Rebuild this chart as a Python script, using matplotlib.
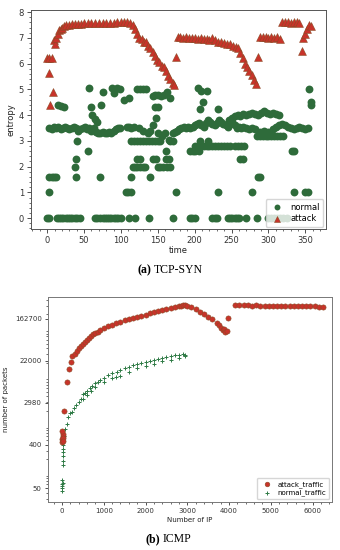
import numpy as np
import matplotlib.pyplot as plt

# ---- (a) TCP-SYN : entropy over time ----
# attack entropy (time, value)
attack_t = [0, 3, 6, 3, 4, 8, 9, 10, 12, 14, 16, 18, 20, 23, 26, 30, 34, 38, 42, 46,
            50, 55, 60, 65, 70, 75, 80, 85, 90, 95, 100, 104, 108, 112, 116, 119, 122,
            125, 128, 131, 134, 137, 140, 143, 146, 149, 152, 155, 158, 161, 164, 167,
            170, 172, 174, 177, 180, 184, 188, 192, 196, 200, 204, 208, 212, 216, 220,
            224, 228, 232, 236, 240, 244, 248, 252, 256, 259, 262, 265, 268, 271, 274,
            277, 280, 283, 286, 289, 292, 296, 300, 304, 308, 312, 316, 319, 322, 326,
            330, 334, 338, 342, 345, 347, 349, 352, 355, 357]
attack_v = [6.2, 6.2, 6.2, 5.65, 4.4, 4.9, 6.9, 6.75, 7.0, 7.15, 7.3, 7.35, 7.4, 7.45,
            7.5, 7.5, 7.52, 7.55, 7.55, 7.55, 7.56, 7.57, 7.57, 7.57, 7.58, 7.57, 7.58,
            7.58, 7.56, 7.6, 7.6, 7.62, 7.6, 7.58, 7.5, 7.35, 7.15, 7.0, 6.95, 6.85,
            6.85, 6.7, 6.6, 6.45, 6.3, 6.15, 6.05, 5.9, 5.85, 5.7, 5.5, 5.4, 5.25, 5.15,
            6.25, 7.05, 7.05, 7.0, 7.05, 7.0, 7.0, 7.0, 6.95, 7.0, 6.95, 6.95, 6.9, 7.0,
            6.9, 6.85, 6.85, 6.8, 6.75, 6.75, 6.7, 6.65, 6.6, 6.4, 6.2, 6.0, 5.85, 5.7,
            5.55, 5.35, 5.2, 6.25, 7.05, 7.05, 7.05, 7.0, 7.05, 7.0, 7.05, 6.95, 7.6,
            7.6, 7.6, 7.58, 7.6, 7.6, 7.58, 6.5, 7.0, 7.15, 7.35, 7.5, 7.45]

# normal entropy, points sitting on flat levels
lvl_0 = [0, 3, 13, 16, 19, 22, 25, 28, 31, 34, 37, 41, 44, 65, 68, 72, 75, 78, 81, 84,
         87, 90, 93, 96, 100, 111, 119, 138, 170, 193, 196, 200, 224, 227, 230, 245,
         248, 251, 254, 257, 260, 270, 284, 300, 304, 308, 312, 316, 320, 325]
lvl_1 = [3, 107, 110, 114, 175, 232, 277, 335, 350, 354]
lvl_16 = [3, 6, 9, 12, 39, 71, 114, 139, 286, 289]
lvl_20 = [38, 116, 119, 122, 126, 130, 133, 150, 153, 157, 162, 166]
lvl_23 = [39, 122, 126, 143, 147, 161, 165, 261, 265]
lvl_26 = [55, 161, 193, 197, 201, 206, 332, 335]
lvl_28 = [200, 204, 208, 212, 216, 220, 224, 228, 232, 236, 240, 244, 248, 255, 259,
          263, 267]
lvl_30 = [41, 114, 118, 122, 126, 130, 134, 138, 142, 146, 150, 153, 166, 170, 207, 218]
lvl_32 = [284, 288, 292, 296, 300, 304, 308, 312, 316, 320]

# normal entropy, the noisy band and scattered points
band_t = [3, 6, 9, 12, 15, 18, 21, 24, 27, 30, 33, 36, 39, 42, 45, 48, 51, 54, 57, 60,
          63, 66, 69, 72, 75, 78, 81, 84, 87, 90, 93, 96, 99, 108, 111, 114, 117, 125,
          130, 136, 150, 155, 160, 165, 170, 173, 176, 179, 182, 185, 188, 191, 194,
          197, 200, 203, 206, 209, 212, 215, 218, 221, 224, 227, 230, 233, 236, 239,
          242, 245, 248, 251, 254, 257, 260, 263, 266, 270, 274, 278, 282, 288, 294,
          300, 306, 310, 314, 318, 322, 326, 330, 334, 338, 342, 346, 350, 353,
          246, 250, 254, 258, 262, 266, 270, 274, 278, 282, 286, 290, 294, 298, 302,
          306, 310, 314,
          15, 19, 23, 56, 59, 61, 65, 68, 73, 75, 88, 91, 95, 99, 104, 111, 122, 126,
          130, 134, 143, 146, 150, 154, 158, 162, 166, 146, 150, 148, 143, 139, 205,
          208, 216, 211, 207, 232, 355, 357, 358]
band_v = [3.5, 3.45, 3.55, 3.5, 3.55, 3.45, 3.5, 3.55, 3.5, 3.45, 3.5, 3.55, 3.5, 3.4,
          3.45, 3.5, 3.55, 3.45, 3.5, 3.4, 3.5, 3.35, 3.3, 3.3, 3.35, 3.3, 3.3, 3.35,
          3.3, 3.4, 3.45, 3.5, 3.5, 3.55, 3.55, 3.5, 3.55, 3.5, 3.4, 3.3, 3.3, 3.2,
          3.3, 3.05, 3.3, 3.35, 3.4, 3.45, 3.5, 3.55, 3.5, 3.55, 3.5, 3.55, 3.6, 3.65,
          3.7, 3.6, 3.55, 3.7, 3.8, 3.75, 3.65, 3.6, 3.7, 3.8, 3.75, 3.65, 3.6, 3.55,
          3.65, 3.75, 3.6, 3.5, 3.55, 3.5, 3.55, 3.5, 3.45, 3.5, 3.45, 3.35, 3.4, 3.35,
          3.45, 3.55, 3.6, 3.65, 3.6, 3.55, 3.5, 3.45, 3.5, 3.55, 3.5, 3.45, 3.5,
          3.8, 3.9, 3.95, 4.0, 3.95, 4.05, 4.0, 4.05, 4.1, 4.05, 4.0, 4.1, 4.15, 4.1,
          4.05, 4.1, 4.05, 4.0,
          4.4, 4.35, 4.3, 5.05, 4.3, 4.0, 3.85, 3.75, 4.4, 4.9, 5.05, 4.85, 5.05, 5.0,
          4.6, 4.65, 5.0, 5.0, 5.0, 5.0, 4.75, 4.8, 4.8, 4.75, 4.8, 4.9, 4.65, 4.3, 4.3,
          3.9, 3.6, 3.4, 5.05, 4.95, 4.95, 4.5, 4.25, 4.25, 5.0, 4.4, 4.5]

# ---- (b) ICMP : packets per number of IP ----
atk_ip = [5, 10, 15, 20, 8, 12, 18, 45, 120, 168, 216, 250, 300, 350, 400, 450, 500,
          550, 600, 650, 700, 750, 800, 850, 900, 1000, 1100, 1200, 1300, 1400, 1500,
          1600, 1700, 1800, 1900, 2000, 2100, 2200, 2300, 2400, 2500, 2600, 2700, 2800,
          2850, 2900, 2950, 3000, 3100, 3200, 3300, 3400, 3500, 3600, 3700, 3750, 3800,
          3850, 3880, 3910, 3940, 3980, 4150, 4250, 4350, 4450, 4550, 4650, 4750, 4850,
          4950, 5050, 5150, 5250, 5350, 5450, 5550, 5650, 5750, 5850, 5950, 6050, 6150,
          6250]
atk_pk = [450, 520, 600, 680, 760, 550, 480, 1960, 7800, 14500, 21000, 27000, 30000,
          35000, 40000, 45000, 50000, 55000, 60000, 66000, 72000, 77000, 82000, 87000,
          94000, 104000, 113000, 123000, 133000, 142000, 151000, 160000, 170000, 178000,
          188000, 197000, 210000, 222000, 234000, 246000, 258000, 270000, 284000,
          298000, 305000, 312000, 308000, 305000, 280000, 255000, 230000, 205000,
          180000, 160000, 135000, 122000, 105000, 95000, 100000, 85000, 90000, 170000,
          312000, 310000, 308000, 309000, 306000, 307000, 305000, 306000, 304000,
          305000, 303000, 304000, 302000, 303000, 301000, 300000, 300000, 298000,
          297000, 295000, 292000, 290000]

nrm_ip = [5, 5, 8, 10, 12, 6, 15, 18, 20, 22, 25, 20, 30, 40, 70, 110, 150, 200, 230,
          280, 330, 400, 450, 510, 560, 600, 670, 720, 800, 850, 910, 1000, 1100, 1200,
          1320, 1400, 1500, 1600, 1700, 1800, 1900, 2000, 2100, 2200, 2300, 2400, 2500,
          2600, 2700, 2800, 2900, 2950,
          500, 600, 700, 800, 1000, 1200, 1300, 1400, 1600, 1800, 2000, 2200, 2400,
          2600, 2800, 2950]
nrm_pk = [45, 50, 55, 60, 65, 75, 150, 180, 230, 280, 330, 400, 480, 600, 830, 1100,
          1500, 1800, 1950, 2300, 2700, 3000, 3500, 4400, 4800, 5300, 6100, 6500, 7500,
          8000, 8900, 9800, 11000, 12000, 13000, 14000, 15500, 16500, 18000, 19000,
          20000, 21000, 22000, 23000, 24000, 25000, 26500, 27500, 28500, 29500, 30000,
          29000,
          3600, 4300, 5200, 6200, 8000, 9800, 10000, 10500, 13000, 15500, 17500, 19000,
          21500, 23000, 25000, 27000]
pk_ticks = [50, 400, 2980, 22000, 162700]

green = '#2e6b3a'
red = '#c8332a'
brown = '#8a4a25'
spine = '#555555'

fig = plt.figure(figsize=(3.4, 5.5), dpi=100)

# top panel
ax1 = fig.add_axes([31 / 340, 1 - 229 / 550, 295 / 340, 219 / 550])
normal_t = lvl_0 + lvl_1 + lvl_16 + lvl_20 + lvl_23 + lvl_26 + lvl_28 + lvl_30 + lvl_32 + band_t
normal_v = ([0] * len(lvl_0) + [1] * len(lvl_1) + [1.6] * len(lvl_16) + [2.0] * len(lvl_20)
            + [2.3] * len(lvl_23) + [2.6] * len(lvl_26) + [2.8] * len(lvl_28)
            + [3.0] * len(lvl_30) + [3.2] * len(lvl_32) + band_v)
ax1.scatter(normal_t, normal_v, s=32, marker='o', color=green, linewidths=0,
            label='normal', zorder=2)
ax1.scatter(attack_t, attack_v, s=32, marker='^', facecolor=red, edgecolor=brown,
            linewidths=0.4, label='attack', zorder=3)
ax1.set_xlim(-22, 378)
ax1.set_ylim(-0.42, 8.08)
ax1.set_xticks([0, 50, 100, 150, 200, 250, 300, 350])
ax1.set_yticks(range(0, 9))
ax1.minorticks_on()
ax1.tick_params(labelsize=6, length=3, width=0.6, colors='#333333', pad=2)
ax1.tick_params(which='minor', length=1.5, width=0.5, colors='#333333')
ax1.set_xlabel('time', fontsize=6, labelpad=1, color='#222222')
ax1.set_ylabel('entropy', fontsize=6, labelpad=2, color='#222222')
for s in ax1.spines.values():
    s.set_color(spine)
    s.set_linewidth(0.7)
ax1.legend(loc='lower right', fontsize=6, markerscale=0.75, handletextpad=0.6,
           borderpad=0.4, labelspacing=0.3, framealpha=0.8, edgecolor='#cccccc',
           borderaxespad=0.3)

# bottom panel
ax2 = fig.add_axes([48 / 340, 1 - 502 / 550, 284 / 340, 205 / 550])
ax2.scatter(atk_ip, atk_pk, s=14, marker='o', facecolor=red, edgecolor=brown,
            linewidths=0.4, label='attack_traffic', zorder=3)
ax2.scatter(nrm_ip, nrm_pk, s=12, marker='+', color='#2e7a45', linewidths=0.7,
            label='normal_traffic', zorder=2)
ax2.set_yscale('log')
ax2.set_xlim(-336, 6466)
ax2.set_ylim(26, 460000)
ax2.set_yticks(pk_ticks)
ax2.set_yticklabels([str(v) for v in pk_ticks])
ax2.set_xticks([0, 1000, 2000, 3000, 4000, 5000, 6000])
ax2.xaxis.set_minor_locator(plt.MultipleLocator(200))
ax2.tick_params(labelsize=5, length=2.5, width=0.6, colors='#333333', pad=2)
ax2.tick_params(which='minor', length=1.3, width=0.5, colors='#333333')
ax2.set_xlabel('Number of IP', fontsize=5, labelpad=2, color='#222222')
ax2.set_ylabel('number of packets', fontsize=5, labelpad=4, color='#222222')
for s in ax2.spines.values():
    s.set_color('#777777')
    s.set_linewidth(0.7)
ax2.legend(loc='lower right', fontsize=5, markerscale=0.9, handletextpad=0.6,
           borderpad=0.4, labelspacing=0.3, framealpha=0.8, edgecolor='#cccccc',
           borderaxespad=0.4)

# captions
cap = dict(fontsize=8.5, family='Liberation Serif', va='center', color='black')
fig.text(151 / 340, 1 - 270 / 550, '(a)', ha='right', weight='bold', **cap)
fig.text(154 / 340, 1 - 270 / 550, 'TCP-SYN', ha='left', **cap)
fig.text(160 / 340, 1 - 539 / 550, '(b)', ha='right', weight='bold', **cap)
fig.text(163 / 340, 1 - 539 / 550, 'ICMP', ha='left', **cap)

fig.savefig('out.png', dpi=100)
